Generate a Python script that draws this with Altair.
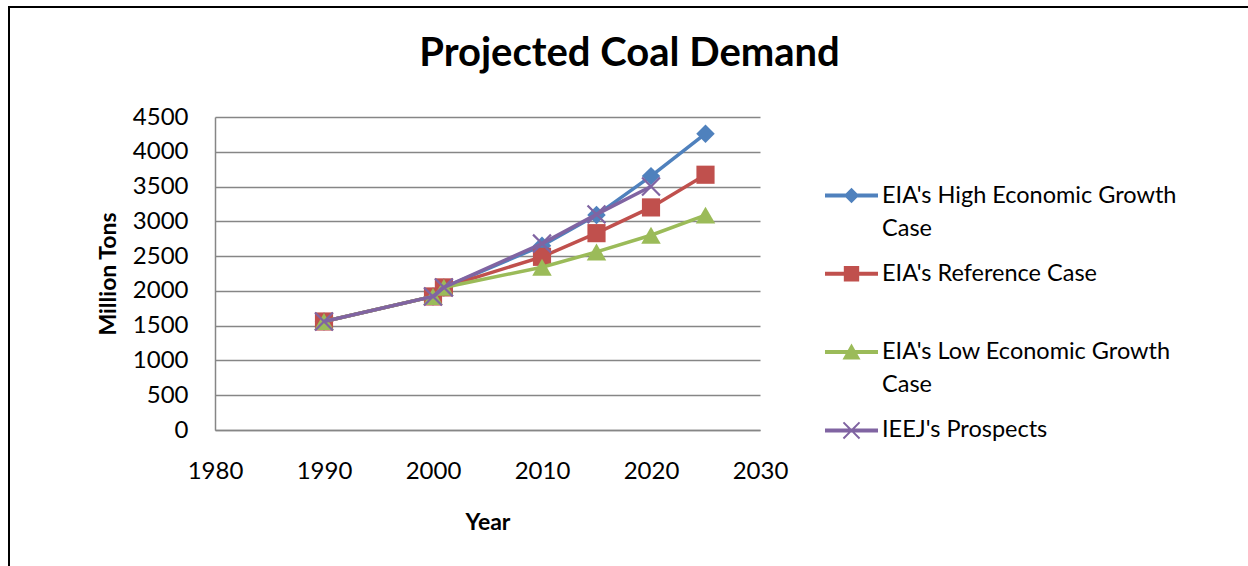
import altair as alt
import pandas as pd

# ---------------- data ----------------
series = [
    "EIA's High Economic Growth Case",
    "EIA's Reference Case",
    "EIA's Low Economic Growth Case",
    "IEEJ's Prospects",
]
colors = ["#4F81BD", "#C0504D", "#9BBB59", "#8064A2"]

eia_years = [1990, 2000, 2001, 2010, 2015, 2020, 2025]
ieej_years = [1990, 2000, 2001, 2010, 2015, 2020]

high = [1560, 1920, 2050, 2650, 3090, 3650, 4260]
reference = [1560, 1920, 2050, 2490, 2830, 3200, 3670]
low = [1560, 1920, 2050, 2340, 2560, 2800, 3090]
ieej = [1560, 1920, 2050, 2680, 3100, 3500]

x_ticks = [1980, 1990, 2000, 2010, 2020, 2030]
y_ticks = [0, 500, 1000, 1500, 2000, 2500, 3000, 3500, 4000, 4500]

values = [high, reference, low, ieej]
years = [eia_years, eia_years, eia_years, ieej_years]

rows = []
for s, ys, vs in zip(series, years, values):
    for yr, v in zip(ys, vs):
        rows.append({"series": s, "year": yr, "demand": v})
df = pd.DataFrame(rows)

# ---------------- styling helpers ----------------
FONT = "Lato"
GRID = "#868686"


def x_poly(s, d):
    a = s
    b = s * (1 - d)
    c = s * d
    pts = [(-a, -b), (-b, -a), (0, -c), (b, -a), (a, -b), (c, 0),
           (a, b), (b, a), (0, c), (-b, a), (-a, b), (-c, 0)]
    return "M" + "L".join(f"{x:.3f},{y:.3f}" for x, y in pts) + "Z"


line_rect = "M-1,-0.075H1V0.075H-1Z"
legend_paths = [
    line_rect + "M0,-0.29L0.29,0L0,0.29L-0.29,0Z",
    line_rect + "M-0.29,-0.29H0.29V0.29H-0.29Z",
    line_rect + "M0,-0.32L0.34,0.28L-0.34,0.28Z",
    line_rect + x_poly(0.33, 0.16),
]
marker_shapes = ["diamond", "square", "triangle-up", x_poly(1, 0.16)]
marker_sizes = [340, 330, 380, 380]

x_enc = alt.X(
    "year:Q",
    scale=alt.Scale(domain=[1980, 2030], nice=False, zero=False),
    axis=alt.Axis(
        values=x_ticks, format="d", grid=False, ticks=False, tickSize=0,
        domainColor=GRID, domainWidth=1.5,
        labelFont=FONT, labelFontSize=24, labelColor="black",
        labelPadding=48, labelBaseline="alphabetic", labelFlush=False,
        title="Year", titleFont=FONT, titleFontSize=23, titleFontWeight="bold",
        titleColor="black", titleX=272.5, titleY=99, titleBaseline="alphabetic",
        titleAlign="center",
    ),
)
y_enc = alt.Y(
    "demand:Q",
    scale=alt.Scale(domain=[0, 4500], nice=False),
    axis=alt.Axis(
        values=y_ticks, format="d", grid=True, gridColor=GRID, gridWidth=1.3,
        ticks=False, tickSize=0, domainColor=GRID, domainWidth=1.5,
        labelFont=FONT, labelFontSize=24, labelColor="black", labelPadding=27,
        title="Million Tons", titleFont=FONT, titleFontSize=23,
        titleFontWeight="bold", titleColor="black", titleAngle=270,
        titleX=-100, titleY=156.5, titleBaseline="alphabetic", titleAlign="center",
    ),
)

base = alt.Chart(df)

layers = []
# frame around the whole chart (decoration)
frame = alt.Chart(pd.DataFrame({"k": [0]})).mark_rect(
    fillOpacity=0, stroke="black", strokeWidth=2
).encode(x=alt.value(-206), x2=alt.value(1100), y=alt.value(-110), y2=alt.value(600))
layers.append(frame)

for i, s in enumerate(series):
    sub = base.transform_filter(alt.datum.series == s)
    layers.append(
        sub.mark_line(strokeWidth=3.5, color=colors[i]).encode(x=x_enc, y=y_enc)
    )
    layers.append(
        sub.mark_point(
            filled=True, shape=marker_shapes[i], size=marker_sizes[i],
            color=colors[i], opacity=1, strokeWidth=0,
        ).encode(x=x_enc, y=y_enc)
    )

legend = alt.Legend(
    orient="none", legendX=610, legendY=52, title=None, padding=0,
    symbolSize=2809, symbolOpacity=1, symbolStrokeWidth=0,
    labelFont=FONT, labelFontSize=23.5, labelColor="black", labelOffset=4,
    labelLimit=500, rowPadding=7.3, gridAlign="all",
    labelBaseline="middle",
    labelExpr="indexof(datum.label, 'Growth') >= 0 ? [replace(datum.label, ' Case', ''), 'Case'] : datum.label",
)
legend_layer = base.mark_point(filled=True, opacity=0, size=2809).encode(
    x=x_enc, y=y_enc,
    color=alt.Color("series:N", scale=alt.Scale(domain=series, range=colors), legend=legend),
    shape=alt.Shape("series:N", scale=alt.Scale(domain=series, range=legend_paths), legend=legend),
)
layers.append(legend_layer)

chart = alt.layer(*layers).properties(
    width=545,
    height=313,
    autosize=alt.AutoSizeParams(type="none"),
    padding={"left": 215, "top": 117, "right": 488, "bottom": 136},
    background="white",
    title=alt.TitleParams(
        "Projected Coal Demand", font=FONT, fontSize=40, fontWeight="bold",
        color="black", anchor="middle", dx=142, offset=-100, baseline="alphabetic",
    ),
).configure(
    style={"guide-label": {"lineHeight": 33}},
    view=alt.ViewConfig(stroke=None),
)

chart.save("out.html", embed_options={"renderer": "svg", "actions": False})
